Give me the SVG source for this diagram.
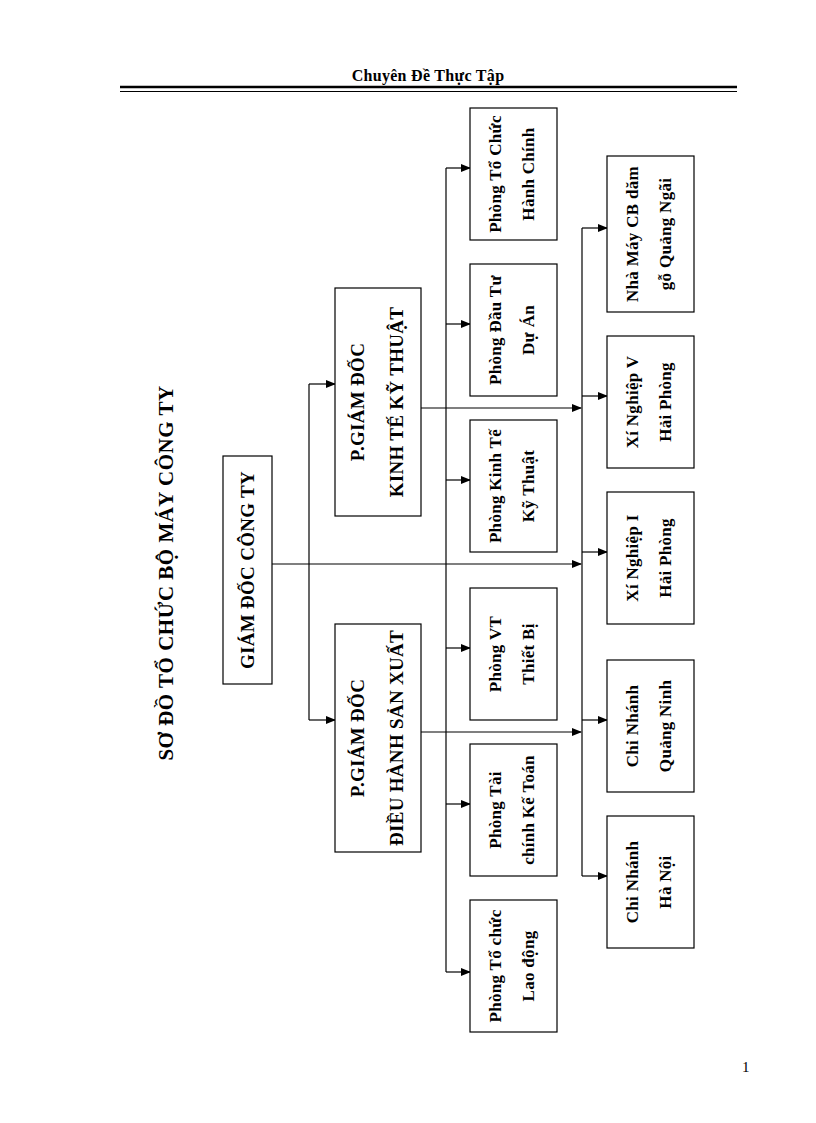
<svg xmlns="http://www.w3.org/2000/svg" width="816" height="1123" viewBox="0 0 816 1123">
<defs>
<marker id="ar" markerWidth="10" markerHeight="8" refX="9" refY="4" orient="auto" markerUnits="userSpaceOnUse"><path d="M0,0 L10,4 L0,8 Z" fill="#000"/></marker>
<style>
.b{fill:#fff;stroke:#000;stroke-width:1.2}
.t{font-family:"Liberation Serif","Times New Roman",serif;font-weight:bold;font-size:17px;letter-spacing:0.3px;text-anchor:middle;fill:#000}
.p{font-size:19px;letter-spacing:0.3px}
.c line{stroke:#000;stroke-width:1.2}
.c .a{marker-end:url(#ar)}
</style>
</defs>
<rect width="816" height="1123" fill="#fff"/>
<text x="428" y="81" class="t" style="font-size:16px;letter-spacing:0.3px">Chuyên Đề Thực Tập</text>
<line x1="120" y1="87" x2="737" y2="87" stroke="#000" stroke-width="2.5"/>
<line x1="120" y1="91.5" x2="737" y2="91.5" stroke="#000" stroke-width="1"/>
<text class="t" style="font-size:21px;letter-spacing:0.5px" transform="translate(173,573) rotate(-90)">SƠ ĐỒ TỔ CHỨC BỘ MÁY CÔNG TY</text>
<text x="742" y="1072" style="font-family:'Liberation Serif',serif;font-size:15px">1</text>

<g class="c">
<line x1="272" y1="564" x2="581" y2="564" class="a"/>
<line x1="309" y1="384" x2="309" y2="720"/>
<line x1="309" y1="384" x2="335" y2="384" class="a"/>
<line x1="309" y1="720" x2="335" y2="720" class="a"/>
<line x1="421" y1="408" x2="581" y2="408" class="a"/>
<line x1="421" y1="732" x2="581" y2="732" class="a"/>
<line x1="446" y1="168" x2="446" y2="972"/>
<line x1="446" y1="168" x2="470" y2="168" class="a"/>
<line x1="446" y1="324" x2="470" y2="324" class="a"/>
<line x1="446" y1="480" x2="470" y2="480" class="a"/>
<line x1="446" y1="648" x2="470" y2="648" class="a"/>
<line x1="446" y1="804" x2="470" y2="804" class="a"/>
<line x1="446" y1="972" x2="470" y2="972" class="a"/>
<line x1="582" y1="228" x2="582" y2="876"/>
<line x1="582" y1="228" x2="607" y2="228" class="a"/>
<line x1="582" y1="396" x2="607" y2="396" class="a"/>
<line x1="582" y1="552" x2="607" y2="552" class="a"/>
<line x1="582" y1="720" x2="607" y2="720" class="a"/>
<line x1="582" y1="876" x2="607" y2="876" class="a"/>
</g>

<g id="gd"><rect class="b" x="223" y="456" width="49" height="228"/><text class="t" style="font-size:19px" transform="translate(247,570) rotate(-90)" y="7">GIÁM ĐỐC CÔNG TY</text></g>
<g id="pgd-kt"><rect class="b" x="335" y="288" width="86" height="228"/><g transform="translate(378,402) rotate(-90)"><text class="t p" y="-14">P.GIÁM ĐỐC</text><text class="t p" y="25">KINH TẾ KỸ THUẬT</text></g></g>
<g id="pgd-sx"><rect class="b" x="335" y="624" width="86" height="228"/><g transform="translate(378,738) rotate(-90)"><text class="t p" y="-14">P.GIÁM ĐỐC</text><text class="t p" y="25">ĐIỀU HÀNH SẢN XUẤT</text></g></g>

<g id="p1"><rect class="b" x="470" y="108" width="87" height="132"/><g transform="translate(513,174) rotate(-90)"><text class="t" y="-12">Phòng Tổ Chức</text><text class="t" y="21">Hành Chính</text></g></g>
<g id="p2"><rect class="b" x="470" y="264" width="87" height="132"/><g transform="translate(513,330) rotate(-90)"><text class="t" y="-12">Phòng Đầu Tư</text><text class="t" y="21">Dự Án</text></g></g>
<g id="p3"><rect class="b" x="470" y="420" width="87" height="132"/><g transform="translate(513,486) rotate(-90)"><text class="t" y="-12">Phòng Kinh Tế</text><text class="t" y="21">Kỹ Thuật</text></g></g>
<g id="p4"><rect class="b" x="470" y="588" width="87" height="132"/><g transform="translate(513,654) rotate(-90)"><text class="t" y="-12">Phòng VT</text><text class="t" y="21">Thiết Bị</text></g></g>
<g id="p5"><rect class="b" x="470" y="744" width="87" height="132"/><g transform="translate(513,810) rotate(-90)"><text class="t" y="-12">Phòng Tài</text><text class="t" y="21">chính Kế Toán</text></g></g>
<g id="p6"><rect class="b" x="470" y="900" width="87" height="132"/><g transform="translate(513,966) rotate(-90)"><text class="t" y="-12">Phòng Tổ chức</text><text class="t" y="21">Lao động</text></g></g>

<g id="r1"><rect class="b" x="607" y="156" width="87" height="156"/><g transform="translate(650,234) rotate(-90)"><text class="t" y="-12">Nhà Máy CB dăm</text><text class="t" y="21">gỗ Quảng Ngãi</text></g></g>
<g id="r2"><rect class="b" x="607" y="336" width="87" height="132"/><g transform="translate(650,402) rotate(-90)"><text class="t" y="-12">Xí Nghiệp V</text><text class="t" y="21">Hải Phòng</text></g></g>
<g id="r3"><rect class="b" x="607" y="492" width="87" height="132"/><g transform="translate(650,558) rotate(-90)"><text class="t" y="-12">Xí Nghiệp I</text><text class="t" y="21">Hải Phòng</text></g></g>
<g id="r4"><rect class="b" x="607" y="660" width="87" height="132"/><g transform="translate(650,726) rotate(-90)"><text class="t" y="-12">Chi Nhánh</text><text class="t" y="21">Quảng Ninh</text></g></g>
<g id="r5"><rect class="b" x="607" y="816" width="87" height="132"/><g transform="translate(650,882) rotate(-90)"><text class="t" y="-12">Chi Nhánh</text><text class="t" y="21">Hà Nội</text></g></g>
</svg>
